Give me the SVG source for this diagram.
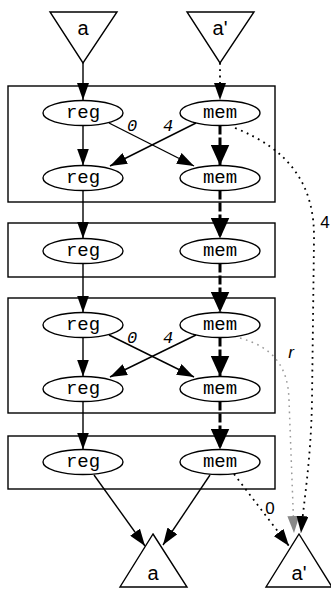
<svg xmlns="http://www.w3.org/2000/svg" width="331" height="590" viewBox="0 0 331 590">
<defs>
<marker id="ahb" viewBox="0 0 10 10" refX="10" refY="5" markerWidth="21" markerHeight="19" markerUnits="userSpaceOnUse" orient="auto" preserveAspectRatio="none"><path d="M0,0 L10,5 L0,10 z" fill="#000"/></marker>
<marker id="ahg" viewBox="0 0 10 10" refX="10" refY="5" markerWidth="17" markerHeight="12" markerUnits="userSpaceOnUse" orient="auto" preserveAspectRatio="none"><path d="M0,0 L10,5 L0,10 z" fill="#888"/></marker>
<marker id="ahk" viewBox="0 0 10 10" refX="10" refY="5" markerWidth="17" markerHeight="12" markerUnits="userSpaceOnUse" orient="auto" preserveAspectRatio="none"><path d="M0,0 L10,5 L0,10 z" fill="#000"/></marker>
</defs>
<style>
.box{fill:#fff;stroke:#000;stroke-width:1.4}
.n ellipse{fill:#fff;stroke:#000;stroke-width:1.4}
.n text{font-family:"Liberation Mono","Courier New",monospace;font-size:19px;text-anchor:middle}
.tri polygon{fill:#fff;stroke:#000;stroke-width:1.4}
.tri text{font-family:"Liberation Sans",Arial,sans-serif;font-size:20px;text-anchor:middle}
.e{fill:none;stroke:#000;stroke-width:1.4;marker-end:url(#ahk)}
.b{fill:none;stroke:#000;stroke-width:3;stroke-dasharray:9,3;marker-end:url(#ahb)}
.d{fill:none;stroke:#000;stroke-width:1.8;stroke-dasharray:1.8,4.5;marker-end:url(#ahk)}
.g{fill:none;stroke:#999;stroke-width:1.5;stroke-dasharray:1.6,4.5;marker-end:url(#ahg)}
.lm{font-family:"Liberation Mono",monospace;font-size:17px;font-style:italic;text-anchor:middle}
.ls{font-family:"Liberation Sans",Arial,sans-serif;font-size:17px;text-anchor:middle}
</style>
<g id="clusters">
<rect class="box" x="8" y="86" width="267" height="116"/>
<rect class="box" x="8" y="223" width="267" height="54"/>
<rect class="box" x="8" y="298" width="267" height="115"/>
<rect class="box" x="8" y="436" width="267" height="53"/>
</g>
<g id="in_a" class="tri"><polygon points="50,12 117,12 83,63"/><text x="83" y="35">a</text></g>
<g id="in_a2" class="tri"><polygon points="187,12 254,12 220,63"/><text x="220" y="35">a'</text></g>
<g id="out_a" class="tri"><polygon points="153,534 187,587 120,587"/><text x="153" y="580">a</text></g>
<g id="out_a2" class="tri"><polygon points="299,534 332,587 266,587"/><text x="299" y="580">a'</text></g>
<g id="reg1" class="n"><ellipse cx="83" cy="113" rx="40" ry="12.5"/><text x="83" y="118">reg</text></g>
<g id="mem1" class="n"><ellipse cx="220" cy="113" rx="40" ry="12.5"/><text x="220" y="118">mem</text></g>
<g id="reg2" class="n"><ellipse cx="83" cy="178" rx="40" ry="12.5"/><text x="83" y="183">reg</text></g>
<g id="mem2" class="n"><ellipse cx="220" cy="178" rx="40" ry="12.5"/><text x="220" y="183">mem</text></g>
<g id="reg3" class="n"><ellipse cx="83" cy="251" rx="40" ry="12.5"/><text x="83" y="256">reg</text></g>
<g id="mem3" class="n"><ellipse cx="220" cy="251" rx="40" ry="12.5"/><text x="220" y="256">mem</text></g>
<g id="reg4" class="n"><ellipse cx="83" cy="325" rx="40" ry="12.5"/><text x="83" y="330">reg</text></g>
<g id="mem4" class="n"><ellipse cx="220" cy="325" rx="40" ry="12.5"/><text x="220" y="330">mem</text></g>
<g id="reg5" class="n"><ellipse cx="83" cy="389" rx="40" ry="12.5"/><text x="83" y="394">reg</text></g>
<g id="mem5" class="n"><ellipse cx="220" cy="389" rx="40" ry="12.5"/><text x="220" y="394">mem</text></g>
<g id="reg6" class="n"><ellipse cx="83" cy="462" rx="40" ry="12.5"/><text x="83" y="467">reg</text></g>
<g id="mem6" class="n"><ellipse cx="220" cy="462" rx="40" ry="12.5"/><text x="220" y="467">mem</text></g>
<g id="edges">
<path class="e" d="M83,63 L83,100"/>
<path class="d" d="M220,63 L220,100"/>
<path class="e" d="M83,125.5 L83,165.5"/>
<path class="b" d="M220,125.5 L220,165.5"/>
<path class="e" d="M109,123 L194,166"/>
<path class="e" d="M196,123 L110,166"/>
<path class="e" d="M83,190.5 L83,238.5"/>
<path class="b" d="M220,190.5 L220,238.5"/>
<path class="e" d="M83,263.5 L83,312.5"/>
<path class="b" d="M220,263.5 L220,312.5"/>
<path class="e" d="M83,337.5 L83,376.5"/>
<path class="b" d="M220,337.5 L220,376.5"/>
<path class="e" d="M109,335 L194,377"/>
<path class="e" d="M196,335 L110,377"/>
<path class="e" d="M83,401.5 L83,449.5"/>
<path class="b" d="M220,401.5 L220,449.5"/>
<path class="e" d="M94,475 L145,546"/>
<path class="e" d="M210,475 L163,545"/>
<path class="d" d="M234,474 L289,546"/>
<path class="g" d="M240,338 C272,347 288,365 289,400 L294,533"/>
<path class="d" d="M235,128 C290,150 315,185 314,240 L312,400 C311,460 304,500 301,533"/>
<text class="lm" x="132" y="131">0</text>
<text class="lm" x="168" y="131">4</text>
<text class="lm" x="132" y="343">0</text>
<text class="lm" x="168" y="343">4</text>
<text class="ls" x="325" y="228">4</text>
<text class="ls" x="291" y="358" font-style="italic">r</text>
<text class="ls" x="270" y="514">0</text>
</g>
</svg>
